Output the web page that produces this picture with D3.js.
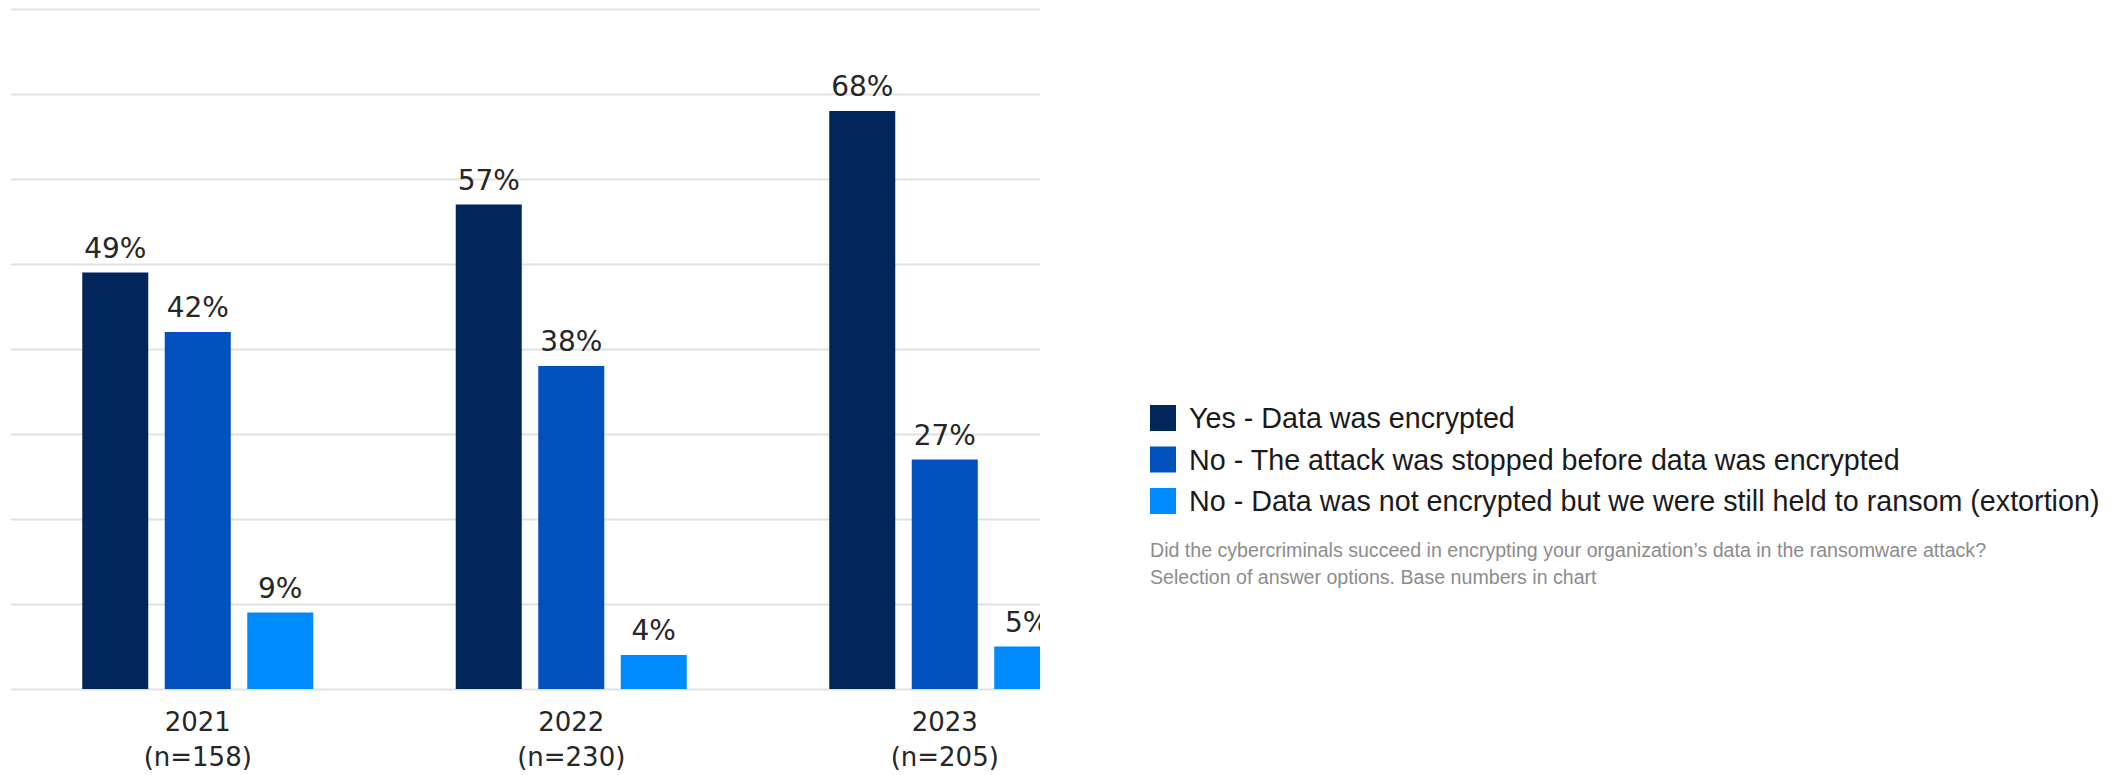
<!DOCTYPE html>
<html>
<head>
<meta charset="utf-8">
<script src="https://cdn.jsdelivr.net/npm/d3@7"></script>
<style>
  html, body { margin: 0; padding: 0; background: #ffffff; }
  svg { display: block; }
</style>
</head>
<body>
<svg id="chart" width="2118" height="775"></svg>
<script>
// ---- Data ----
const years = ["2021", "2022", "2023"];
const bases = ["(n=158)", "(n=230)", "(n=205)"];
const seriesKeys = ["yes", "stopped", "extortion"];
const seriesNames = [
  "Yes - Data was encrypted",
  "No - The attack was stopped before data was encrypted",
  "No - Data was not encrypted but we were still held to ransom (extortion)"
];
const seriesColors = ["#00265c", "#0050bd", "#008bfd"];
const yesValues = [49, 57, 68];
const stoppedValues = [42, 38, 27];
const extortionValues = [9, 4, 5];
const yTickValues = [0, 10, 20, 30, 40, 50, 60, 70, 80];
const noteLines = [
  "Did the cybercriminals succeed in encrypting your organization\u2019s data in the ransomware attack?",
  "Selection of answer options. Base numbers in chart"
];

const valuesByKey = { yes: yesValues, stopped: stoppedValues, extortion: extortionValues };
const rows = years.map((y, i) => ({
  year: y, base: bases[i],
  vals: seriesKeys.map(k => ({ key: k, value: valuesByKey[k][i] }))
}));

// ---- Layout ----
const plotLeft = 11, plotRight = 1040, plotTop = 9, plotBottom = 689;
const groupStep = 373.5, groupInner = 231;

const svg = d3.select("#chart");

const x0 = d3.scaleBand().domain(years).range([plotLeft, plotLeft + groupStep * years.length]).padding(0);
const x1 = d3.scaleBand().domain(seriesKeys).range([0, groupInner]).paddingInner(0.2).paddingOuter(0);
const y = d3.scaleLinear().domain([0, 80]).range([plotBottom, plotTop]);
const color = d3.scaleOrdinal().domain(seriesKeys).range(seriesColors);

svg.append("defs").append("clipPath").attr("id", "plotClip")
  .append("rect").attr("x", 0).attr("y", 0).attr("width", plotRight).attr("height", 700);

const plot = svg.append("g").attr("clip-path", "url(#plotClip)");

// Gridlines via axis
const grid = plot.append("g")
  .attr("transform", `translate(${plotLeft},0)`)
  .call(d3.axisLeft(y).tickValues(yTickValues).tickSize(-(plotRight - plotLeft)).tickFormat(""));
grid.select(".domain").remove();
grid.selectAll(".tick line").attr("stroke", "#e1e1e1").attr("stroke-width", 2);

// Bars
const groups = plot.selectAll("g.group").data(rows).join("g")
  .attr("class", "group")
  .attr("transform", d => `translate(${x0(d.year) + x0.bandwidth() / 2 - groupInner / 2},0)`);

groups.selectAll("rect").data(d => d.vals).join("rect")
  .attr("x", d => x1(d.key))
  .attr("y", d => y(d.value))
  .attr("width", x1.bandwidth())
  .attr("height", d => y(0) - y(d.value))
  .attr("fill", d => color(d.key));

groups.selectAll("text.val").data(d => d.vals).join("text")
  .attr("class", "val")
  .attr("x", d => x1(d.key) + x1.bandwidth() / 2)
  .attr("y", d => y(d.value) - 15)
  .attr("text-anchor", "middle")
  .attr("font-family", "DejaVu Sans, sans-serif")
  .attr("font-size", 28)
  .attr("fill", "#262626")
  .text(d => d.value + "%");

// Category labels
const cats = svg.append("g").selectAll("g.cat").data(rows).join("g")
  .attr("class", "cat")
  .attr("transform", d => `translate(${x0(d.year) + x0.bandwidth() / 2},0)`);
cats.append("text")
  .attr("y", 731).attr("text-anchor", "middle")
  .attr("font-family", "DejaVu Sans, sans-serif").attr("font-size", 26).attr("fill", "#262626")
  .text(d => d.year);
cats.append("text")
  .attr("y", 766).attr("text-anchor", "middle")
  .attr("font-family", "DejaVu Sans, sans-serif").attr("font-size", 26).attr("fill", "#262626")
  .text(d => d.base);

// Legend
const legend = svg.append("g").attr("transform", "translate(1150,405)");
const items = legend.selectAll("g").data(seriesKeys).join("g")
  .attr("transform", (d, i) => `translate(0,${i * 41.5})`);
items.append("rect").attr("width", 26).attr("height", 26).attr("fill", d => color(d));
items.append("text")
  .attr("x", 39).attr("y", 13).attr("dy", "0.36em")
  .attr("font-family", "Liberation Sans, Arial, sans-serif").attr("font-size", 28.7).attr("fill", "#1a1a1a")
  .text((d, i) => seriesNames[i]);

// Note
svg.append("g").attr("transform", "translate(1150,0)")
  .selectAll("text").data(noteLines).join("text")
  .attr("x", 0).attr("y", (d, i) => 557 + i * 27)
  .attr("font-family", "Liberation Sans, Arial, sans-serif").attr("font-size", 19.6).attr("fill", "#8c8c8c")
  .text(d => d);
</script>
</body>
</html>
